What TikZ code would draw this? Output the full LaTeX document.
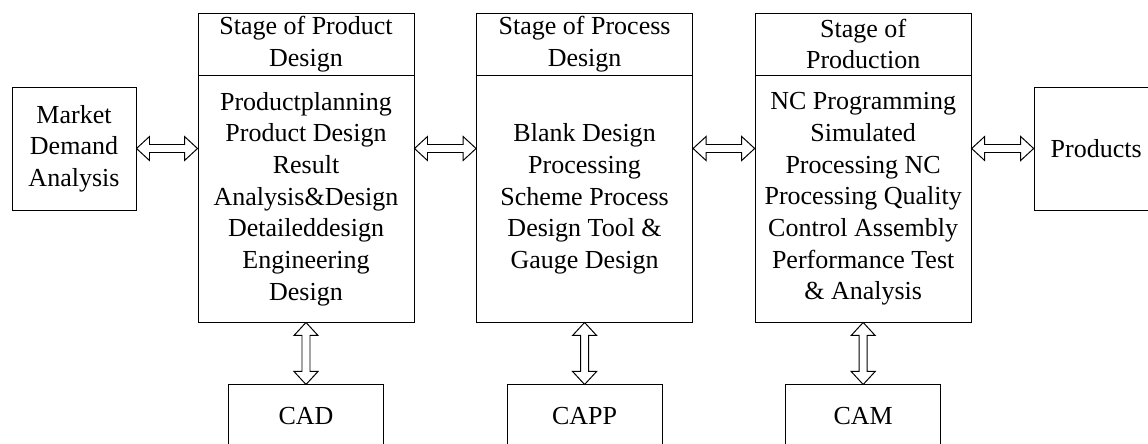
\documentclass[tikz,border=0pt]{standalone}
\usepackage{fontspec}
\setmainfont{Liberation Serif}[Ligatures=TeX]
\newfontfamily\boxfont{Liberation Serif}
\usepackage{tikz}
\usetikzlibrary{positioning,calc}
\tikzset{
  sidebox/.style={draw, line width=0.7pt, align=center, inner sep=0pt, minimum width=3.1cm, minimum height=3.075cm, font=\boxfont\fontsize{18.5}{22.5}\selectfont},
  headbox/.style={draw, line width=0.7pt, align=center, inner sep=0pt, minimum width=5.4cm, minimum height=1.55cm, font=\boxfont\fontsize{18.5}{22.5}\selectfont},
  stagebox/.style={draw, line width=0.7pt, align=center, inner sep=0pt, minimum width=5.4cm, minimum height=6.15cm, font=\boxfont\fontsize{18.5}{22.5}\selectfont},
  toolbox/.style={draw, line width=0.7pt, align=center, inner sep=0pt, minimum width=3.875cm, minimum height=1.55cm, font=\boxfont\fontsize{18.5}{22.5}\selectfont},
  link/.style={draw, line width=0.7pt, fill=white, line join=miter}
}
\newcommand{\hdarrow}[2]{%
  \path[link] let \p1=(#1), \p2=(#2) in
    (\x1,\y1) -- (\x1+0.325cm,\y1+0.3cm) -- (\x1+0.325cm,\y1+0.1cm) -- (\x2-0.325cm,\y1+0.1cm)
    -- (\x2-0.325cm,\y1+0.3cm) -- (\x2,\y1) -- (\x2-0.325cm,\y1-0.3cm) -- (\x2-0.325cm,\y1-0.1cm)
    -- (\x1+0.325cm,\y1-0.1cm) -- (\x1+0.325cm,\y1-0.3cm) -- cycle;}
\newcommand{\vdarrow}[2]{%
  \path[link] let \p1=(#1), \p2=(#2) in
    (\x1,\y1) -- (\x1+0.3cm,\y1-0.325cm) -- (\x1+0.1cm,\y1-0.325cm) -- (\x1+0.1cm,\y2+0.325cm)
    -- (\x1+0.3cm,\y2+0.325cm) -- (\x1,\y2) -- (\x1-0.3cm,\y2+0.325cm) -- (\x1-0.1cm,\y2+0.325cm)
    -- (\x1-0.1cm,\y1-0.325cm) -- (\x1-0.3cm,\y1-0.325cm) -- cycle;}
\begin{document}
\begin{tikzpicture}
  \useasboundingbox (0,0) rectangle (28.7,-11.075);
  \node[sidebox] (mda) at (1.85,-3.7125) {Market\\Demand\\Analysis};
  \node[headbox] (pdh) at (7.65,-1.1) {Stage of Product\\Design};
  \node[stagebox, below=0cm of pdh] (pd) {Productplanning\\Product Design\\Result\\Analysis\&Design\\Detaileddesign\\Engineering\\Design};
  \node[headbox, right=1.54cm of pdh] (psh) {Stage of Process\\Design};
  \node[stagebox, below=0cm of psh] (ps) {Blank Design\\Processing\\Scheme Process\\Design Tool \&\\Gauge Design};
  \node[headbox, right=1.54cm of psh] (pph) {Stage of\\Production};
  \node[stagebox, below=0cm of pph] (pp) {NC Programming\\Simulated\\Processing NC\\Processing Quality\\Control Assembly\\Performance Test\\\& Analysis};
  \coordinate (lvl) at (pp.east |- mda.east);
  \node[sidebox, right=1.55cm of lvl] (prod) {Products};
  \node[toolbox, below=1.55cm of pd] (cad) {CAD};
  \node[toolbox, below=1.55cm of ps] (capp) {CAPP};
  \node[toolbox, below=1.55cm of pp] (cam) {CAM};
  \hdarrow{mda.east}{pd.west |- mda.east}
  \hdarrow{pd.east |- mda.east}{ps.west |- mda.east}
  \hdarrow{ps.east |- mda.east}{pp.west |- mda.east}
  \hdarrow{pp.east |- mda.east}{prod.west}
  \vdarrow{pd.south}{cad.north}
  \vdarrow{ps.south}{capp.north}
  \vdarrow{pp.south}{cam.north}
\end{tikzpicture}
\end{document}
